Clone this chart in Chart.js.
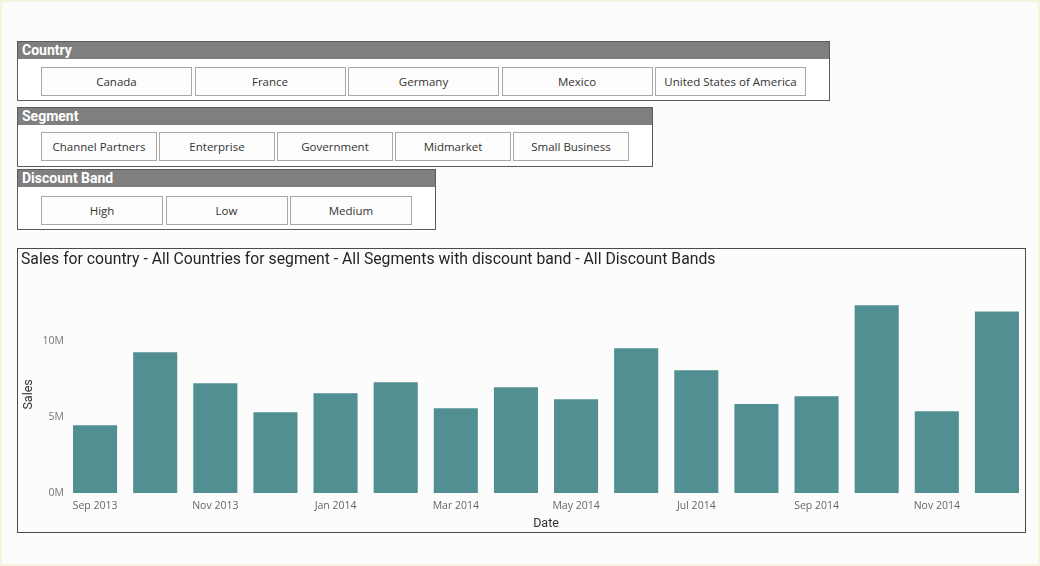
<!DOCTYPE html>
<html>
<head>
<meta charset="utf-8">
<script src="https://cdn.jsdelivr.net/npm/chart.js@4/dist/chart.umd.min.js"></script>
<style>
  html, body { margin: 0; padding: 0; }
  body {
    width: 1040px; height: 566px; position: relative; overflow: hidden;
    background: #fcfcfc; box-sizing: border-box; border: 2px solid #f6f4de;
    font-family: "Open Sans", "Noto Sans", sans-serif;
  }
  .slicer { position: absolute; left: 15px; border: 1px solid #5a5a5a; background: #fff; box-sizing: border-box; }
  .slicer .hd {
    height: 17px; background: #7f7f7f; color: #fff; font-family: Roboto, sans-serif;
    font-weight: bold; font-size: 14px; line-height: 17px; padding-left: 4px;
  }
  .slicer .row { position: absolute; left: 23px; display: flex; }
  .slicer .btn {
    height: 29px; box-sizing: border-box; border: 1px solid #a8a8a8; background: #fdfdfd;
    font-size: 11.5px; color: #333; text-align: center; line-height: 27px; white-space: nowrap;
  }
  .box { position: absolute; left: 15px; top: 246px; width: 1009px; height: 285px; border: 1px solid #4a4a4a; box-sizing: border-box; }
  #wrap { position: absolute; left: 14px; top: 247px; width: 1011px; height: 282px; }
</style>
</head>
<body>
<div class="slicer" style="top:39px;width:813px;height:60px">
  <div class="hd">Country</div>
  <div class="row" id="country" style="top:25px"></div>
</div>
<div class="slicer" style="top:105px;width:636px;height:60px">
  <div class="hd">Segment</div>
  <div class="row" id="segment" style="top:24px"></div>
</div>
<div class="slicer" style="top:167px;width:419px;height:61px">
  <div class="hd">Discount Band</div>
  <div class="row" id="discount" style="top:26px"></div>
</div>
<div class="box"></div>
<div id="wrap"><canvas id="salesChart" width="1011" height="282"></canvas></div>

<script>
const countries = ["Canada", "France", "Germany", "Mexico", "United States of America"];
const segments = ["Channel Partners", "Enterprise", "Government", "Midmarket", "Small Business"];
const discountBands = ["High", "Low", "Medium"];

const months = ["Sep 2013", "Oct 2013", "Nov 2013", "Dec 2013", "Jan 2014", "Feb 2014", "Mar 2014", "Apr 2014",
                "May 2014", "Jun 2014", "Jul 2014", "Aug 2014", "Sep 2014", "Oct 2014", "Nov 2014", "Dec 2014"];
const sales = [4.47e6, 9.28e6, 7.24e6, 5.33e6, 6.58e6, 7.30e6, 5.59e6, 6.97e6,
               6.18e6, 9.54e6, 8.09e6, 5.86e6, 6.38e6, 12.37e6, 5.39e6, 11.97e6];
const yTicks = [0, 5e6, 10e6];

function fillRow(id, items, width, gap) {
    const row = document.getElementById(id);
    row.style.gap = gap + "px";
    items.forEach(txt => {
        const b = document.createElement("div");
        b.className = "btn";
        b.style.width = width + "px";
        b.textContent = txt;
        row.appendChild(b);
    });
}
fillRow("country", countries, 151, 2.5);
fillRow("segment", segments, 116, 2);
fillRow("discount", discountBands, 122, 2.5);

const ctx = document.getElementById("salesChart").getContext("2d");
new Chart(ctx, {
    type: "bar",
    data: {
        labels: months,
        datasets: [{
            label: "Sales",
            data: sales,
            backgroundColor: "#518f92",
            barPercentage: 1,
            categoryPercentage: 0.733
        }]
    },
    options: {
        responsive: false,
        animation: false,
        maintainAspectRatio: false,
        layout: { padding: { left: 5, right: 0, top: 0, bottom: 0 } },
        plugins: {
            legend: { display: false },
            tooltip: { enabled: false },
            title: {
                display: true,
                text: "Sales for country - All Countries for segment - All Segments with discount band - All Discount Bands",
                align: "start",
                color: "#252423",
                font: { family: "Roboto", size: 15.75, weight: "normal" },
                padding: { top: 1.5, bottom: 26.4 }
            }
        },
        scales: {
            x: {
                grid: { display: false, drawTicks: false },
                border: { display: false },
                ticks: {
                    autoSkip: false, maxRotation: 0, padding: 7,
                    color: "#666", font: { family: "Open Sans", size: 10.5 },
                    callback: function (v, i) { return i % 2 === 0 ? this.getLabelForValue(v) : ""; }
                },
                title: { display: true, text: "Date", color: "#333", font: { family: "Roboto", size: 12.5 }, padding: 0 },
                afterFit: s => { s.height = 38; }
            },
            y: {
                min: 0, max: 13e6,
                grid: { display: false, drawTicks: false },
                border: { display: false },
                afterBuildTicks: s => { s.ticks = yTicks.map(v => ({ value: v })); },
                ticks: {
                    padding: 1, color: "#777", font: { family: "Open Sans", size: 10.5 },
                    callback: v => (v / 1e6) + "M"
                },
                title: { display: true, text: "Sales", color: "#333", font: { family: "Roboto", size: 12.5 }, padding: 0 },
                afterFit: s => { s.width = 44; }
            }
        }
    }
});
</script>
</body>
</html>
